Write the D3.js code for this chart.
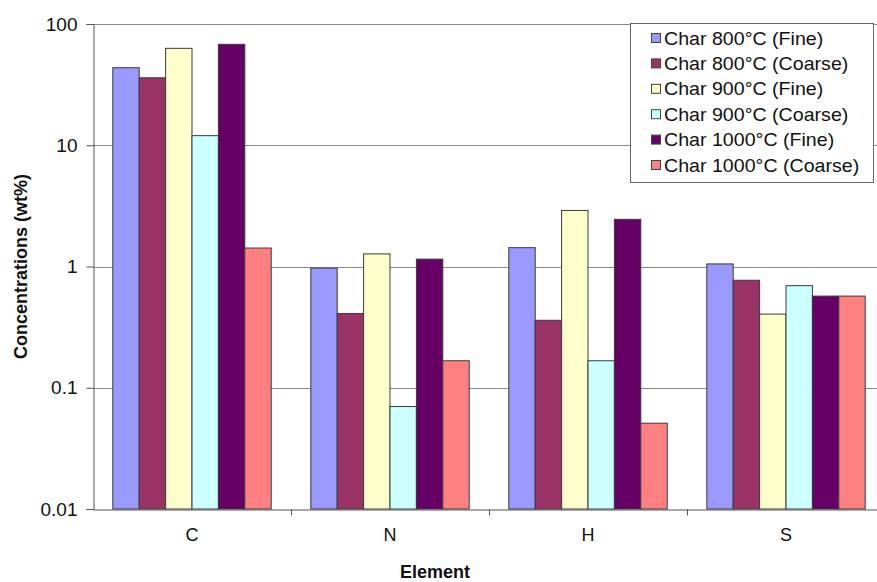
<!DOCTYPE html>
<meta charset="utf-8">
<title>Char element concentrations</title>
<style>
  body { margin: 0; background-color: white; }
  svg { display: block; font-family: "Liberation Sans", Arial, sans-serif; }
  .grid line { stroke: #8c8c8c; stroke-width: 1px; }
  .bars rect { stroke: #3a3a3a; stroke-width: 1px; }
</style>
<svg width="877" height="582"></svg>
<script src="https://d3js.org/d3.v7.min.js"></script>
<script>
// values (wt%)
var elements = ["C", "N", "H", "S"];
var seriesNames = ["Char 800°C (Fine)", "Char 800°C (Coarse)", "Char 900°C (Fine)",
                   "Char 900°C (Coarse)", "Char 1000°C (Fine)", "Char 1000°C (Coarse)"];
var seriesColors = ["#9999ff", "#993366", "#ffffcc", "#ccffff", "#660066", "#ff8080"];
var char800Fine = [43.6, 0.97, 1.43, 1.05];
var char800Coarse = [36, 0.41, 0.36, 0.77];
var char900Fine = [63, 1.27, 2.9, 0.405];
var char900Coarse = [12, 0.07, 0.167, 0.695];
var char1000Fine = [68, 1.15, 2.45, 0.57];
var char1000Coarse = [1.42, 0.167, 0.051, 0.57];
var yTicks = [0.01, 0.1, 1, 10, 100];

var allSeries = [char800Fine, char800Coarse, char900Fine, char900Coarse, char1000Fine, char1000Coarse];

var svg = d3.select("svg"),
    marginLeft = 93, marginTop = 24, plotW = 792, plotH = 485;

var x0 = d3.scaleBand().domain(elements).range([marginLeft, marginLeft + plotW]);
var x1 = d3.scaleBand().domain(seriesNames)
           .range([x0.bandwidth() * 0.1, x0.bandwidth() * 0.9]);
var y = d3.scaleLog().domain([0.01, 100]).range([marginTop + plotH, marginTop]);

// gridlines
svg.append("g")
   .attr("class", "grid")
   .selectAll("line")
   .data(yTicks.slice(1))
   .enter().append("line")
   .attr("x1", marginLeft).attr("x2", marginLeft + plotW)
   .attr("y1", function(d) { return Math.round(y(d)) + 0.5; })
   .attr("y2", function(d) { return Math.round(y(d)) + 0.5; });

// bars
var groups = svg.append("g")
   .attr("class", "bars")
   .selectAll("g")
   .data(elements)
   .enter().append("g")
   .attr("transform", function(d) { return "translate(" + x0(d) + ",0)"; });

groups.selectAll("rect")
   .data(function(d, i) {
     return seriesNames.map(function(s, j) { return {name: s, value: allSeries[j][i], color: seriesColors[j]}; });
   })
   .enter().append("rect")
   .attr("x", function(d) { return x1(d.name); })
   .attr("width", x1.bandwidth())
   .attr("y", function(d) { return y(d.value); })
   .attr("height", function(d) { return y(0.01) - y(d.value); })
   .attr("fill", function(d) { return d.color; });

// y axis
var yAxis = svg.append("g")
   .attr("transform", "translate(" + (marginLeft + 0.5) + ",0)")
   .call(d3.axisLeft(y).tickValues(yTicks).tickFormat(function(d) { return String(d); })
         .tickSize(7).tickPadding(9));
yAxis.select(".domain").attr("stroke", "#555");
yAxis.selectAll(".tick line").attr("stroke", "#555");
yAxis.selectAll("text").attr("font-size", 19).attr("fill", "#111")
     .attr("font-family", "Liberation Sans, Arial, sans-serif");

// x axis
var xAxis = svg.append("g")
   .attr("transform", "translate(0," + (marginTop + plotH + 0.5) + ")")
   .call(d3.axisBottom(x0).tickSize(0).tickPadding(19));
xAxis.select(".domain").attr("stroke", "#555");
xAxis.selectAll("text").attr("font-size", 18).attr("fill", "#111")
     .attr("font-family", "Liberation Sans, Arial, sans-serif");
xAxis.selectAll(".sep")
   .data(elements.slice(1))
   .enter().append("line")
   .attr("class", "sep")
   .attr("x1", function(d) { return Math.round(x0(d)) + 0.5; })
   .attr("x2", function(d) { return Math.round(x0(d)) + 0.5; })
   .attr("y1", 0).attr("y2", 6)
   .attr("stroke", "#555");

// axis titles
svg.append("text")
   .attr("transform", "translate(27," + (marginTop + plotH / 2) + ") rotate(-90)")
   .attr("text-anchor", "middle")
   .attr("font-size", 18).attr("font-weight", "bold").attr("fill", "#111")
   .text("Concentrations (wt%)");

svg.append("text")
   .attr("x", 435).attr("y", 578)
   .attr("text-anchor", "middle")
   .attr("font-size", 18).attr("font-weight", "bold").attr("fill", "#111")
   .text("Element");

// legend
var legend = svg.append("g").attr("transform", "translate(630,23)");
legend.append("rect")
   .attr("x", 0.5).attr("y", 0.5).attr("width", 243).attr("height", 159)
   .attr("fill", "white").attr("stroke", "#666");
var items = legend.selectAll(".item")
   .data(seriesNames)
   .enter().append("g")
   .attr("class", "item")
   .attr("transform", function(d, i) { return "translate(0," + (15 + i * 25.4) + ")"; });
items.append("rect")
   .attr("x", 21.5).attr("y", -4.5).attr("width", 9).attr("height", 9)
   .attr("fill", function(d, i) { return seriesColors[i]; })
   .attr("stroke", "#444");
items.append("text")
   .attr("x", 34).attr("y", 6.5)
   .attr("font-size", 18).attr("fill", "#111")
   .attr("transform", "translate(34,0) scale(1.09,1) translate(-34,0)")
   .text(function(d) { return d; });
</script>
